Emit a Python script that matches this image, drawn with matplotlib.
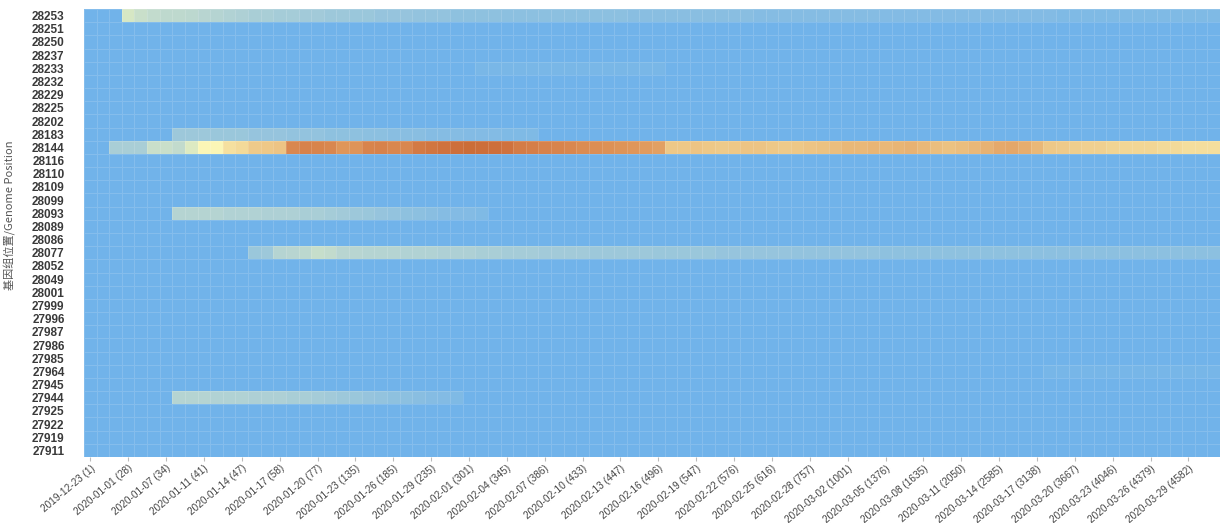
import numpy as np
import matplotlib
matplotlib.use("Agg")
import matplotlib.pyplot as plt
from matplotlib.colors import LinearSegmentedColormap

# Genome positions (top to bottom)
positions = [28253, 28251, 28250, 28237, 28233, 28232, 28229, 28225, 28202, 28183,
             28144, 28116, 28110, 28109, 28099, 28093, 28089, 28086, 28077, 28052,
             28049, 28001, 27999, 27996, 27987, 27986, 27985, 27964, 27945, 27944,
             27925, 27922, 27919, 27911]

n_dates = 90

# Every third collection date is labelled: date (cumulative genome count)
date_labels = ["2019-12-23 (1)", "2020-01-01 (28)", "2020-01-07 (34)", "2020-01-11 (41)",
               "2020-01-14 (47)", "2020-01-17 (58)", "2020-01-20 (77)", "2020-01-23 (135)",
               "2020-01-26 (185)", "2020-01-29 (235)", "2020-02-01 (301)", "2020-02-04 (345)",
               "2020-02-07 (386)", "2020-02-10 (433)", "2020-02-13 (447)", "2020-02-16 (496)",
               "2020-02-19 (547)", "2020-02-22 (576)", "2020-02-25 (616)", "2020-02-28 (757)",
               "2020-03-02 (1001)", "2020-03-05 (1376)", "2020-03-08 (1635)", "2020-03-11 (2050)",
               "2020-03-14 (2585)", "2020-03-17 (3138)", "2020-03-20 (3667)", "2020-03-23 (4046)",
               "2020-03-26 (4379)", "2020-03-29 (4582)"]

# Mutation frequency per date for the variable sites (start column, values)
freq_28144_start = 2
freq_28144 = [0.17, 0.17, 0.17, 0.26, 0.26, 0.24, 0.32, 0.40, 0.40, 0.47,
              0.49, 0.54, 0.55, 0.56, 0.78, 0.80, 0.79, 0.78, 0.72, 0.73,
              0.79, 0.80, 0.78, 0.78, 0.84, 0.86, 0.88, 0.90, 0.92, 0.91,
              0.90, 0.88, 0.83, 0.82, 0.80, 0.79, 0.78, 0.76, 0.75, 0.74,
              0.73, 0.72, 0.70, 0.68, 0.55, 0.55, 0.56, 0.55, 0.54, 0.55,
              0.56, 0.56, 0.55, 0.54, 0.55, 0.56, 0.57, 0.58, 0.60, 0.60,
              0.61, 0.60, 0.61, 0.62, 0.60, 0.58, 0.57, 0.58, 0.60, 0.62,
              0.65, 0.66, 0.64, 0.60, 0.55, 0.54, 0.53, 0.52, 0.52, 0.51,
              0.50, 0.50, 0.50, 0.49, 0.49, 0.48, 0.48, 0.48]

freq_28253_start = 3
freq_28253 = [0.30, 0.26, 0.24, 0.23, 0.23, 0.22, 0.21, 0.20, 0.19, 0.18,
              0.17, 0.17, 0.16, 0.16, 0.15, 0.15, 0.14, 0.14, 0.13, 0.13,
              0.12, 0.12, 0.12, 0.11, 0.11, 0.11, 0.10, 0.10, 0.10, 0.10,
              0.09, 0.09, 0.09, 0.09, 0.09, 0.09, 0.09, 0.09, 0.09, 0.09,
              0.08, 0.08, 0.08, 0.08, 0.08, 0.08, 0.08, 0.08, 0.08, 0.08,
              0.07, 0.07, 0.07, 0.07, 0.07, 0.07, 0.07, 0.07, 0.07, 0.07,
              0.06, 0.06, 0.06, 0.06, 0.06, 0.06, 0.06, 0.06, 0.06, 0.06,
              0.06, 0.06, 0.06, 0.06, 0.05, 0.05, 0.05, 0.05, 0.05, 0.05,
              0.05, 0.05, 0.05, 0.05, 0.05, 0.05, 0.05]

freq_28233_start = 31
freq_28233 = [0.03, 0.03, 0.03, 0.03, 0.03, 0.03, 0.03, 0.03, 0.03, 0.03,
              0.03, 0.03, 0.03, 0.03, 0.03]

freq_28183_start = 7
freq_28183 = [0.14, 0.14, 0.14, 0.13, 0.13, 0.13, 0.12, 0.12, 0.12, 0.11,
              0.11, 0.11, 0.10, 0.10, 0.10, 0.09, 0.09, 0.08, 0.08, 0.08,
              0.07, 0.07, 0.07, 0.06, 0.06, 0.06, 0.05, 0.05, 0.05]

freq_28093_start = 7
freq_28093 = [0.20, 0.20, 0.20, 0.20, 0.19, 0.19, 0.19, 0.18, 0.18, 0.18,
              0.17, 0.17, 0.16, 0.15, 0.14, 0.13, 0.12, 0.11, 0.10, 0.09,
              0.08, 0.07, 0.06, 0.06, 0.05]

freq_28077_start = 13
freq_28077 = [0.13, 0.14, 0.20, 0.21, 0.22, 0.25, 0.24, 0.21, 0.21, 0.20,
              0.20, 0.20, 0.19, 0.19, 0.19, 0.18, 0.18, 0.18, 0.17, 0.17,
              0.16, 0.16, 0.16, 0.15, 0.15, 0.15, 0.15, 0.14, 0.14, 0.14,
              0.14, 0.14, 0.13, 0.13, 0.13, 0.13, 0.13, 0.12, 0.12, 0.12,
              0.12, 0.12, 0.12, 0.11, 0.11, 0.11, 0.11, 0.11, 0.11, 0.11,
              0.10, 0.10, 0.10, 0.10, 0.10, 0.10, 0.10, 0.10, 0.10, 0.10,
              0.10, 0.10, 0.09, 0.09, 0.09, 0.09, 0.09, 0.09, 0.09, 0.09,
              0.09, 0.09, 0.09, 0.09, 0.09, 0.09, 0.09]

freq_27964_start = 76
freq_27964 = [0.02, 0.02, 0.02, 0.02, 0.02, 0.02, 0.02, 0.02, 0.02, 0.02,
              0.02, 0.02, 0.02, 0.02]

freq_27944_start = 7
freq_27944 = [0.20, 0.20, 0.20, 0.19, 0.19, 0.19, 0.18, 0.18, 0.18, 0.17,
              0.17, 0.16, 0.15, 0.14, 0.13, 0.12, 0.11, 0.10, 0.09, 0.08,
              0.07, 0.06, 0.05]

site_series = {
    28144: (freq_28144_start, freq_28144),
    28253: (freq_28253_start, freq_28253),
    28233: (freq_28233_start, freq_28233),
    28183: (freq_28183_start, freq_28183),
    28093: (freq_28093_start, freq_28093),
    28077: (freq_28077_start, freq_28077),
    27964: (freq_27964_start, freq_27964),
    27944: (freq_27944_start, freq_27944),
}

matrix = np.zeros((len(positions), n_dates))
for pos, (start, vals) in site_series.items():
    r = positions.index(pos)
    matrix[r, start:start + len(vals)] = vals

cmap = LinearSegmentedColormap.from_list("freq", [
    (0.00, "#71b3ea"),
    (0.10, "#8fc1df"),
    (0.20, "#b5d4d2"),
    (0.30, "#d7e7c4"),
    (0.40, "#fbf6b6"),
    (0.50, "#f2d796"),
    (0.60, "#e9b878"),
    (0.70, "#e19b5e"),
    (0.80, "#d7824b"),
    (0.90, "#cd6f3b"),
    (1.00, "#c5642f"),
])

fig = plt.figure(figsize=(12.2, 5.23), dpi=100)
ax = fig.add_axes([84 / 1220, 1 - 457 / 523, 1136 / 1220, 448 / 523])

ax.pcolormesh(np.arange(n_dates + 1), np.arange(len(positions) + 1), matrix,
              cmap=cmap, vmin=0, vmax=1,
              edgecolors=(1, 1, 1, 0.14), linewidth=0.7)
ax.set_xlim(0, n_dates)
ax.set_ylim(len(positions), 0)

for s in ax.spines.values():
    s.set_visible(False)

ax.set_yticks(np.arange(len(positions)) + 0.5)
ax.set_yticklabels([str(p) for p in positions], fontsize=8.5,
                   fontweight="bold", color="#3a3a3a", family="Liberation Sans")
ax.tick_params(axis="y", length=0, pad=14)

ax.set_xticks(np.arange(0, n_dates, 3) + 0.5)
ax.set_xticklabels(date_labels, rotation=40, ha="right", rotation_mode="anchor",
                   fontsize=7.2, color="#444444", family="Liberation Sans")
ax.tick_params(axis="x", length=3, width=0.8, color="#bbbbbb", pad=1.5)

ax.set_ylabel("基因组位置/Genome Position", fontsize=8, color="#555555",
              family=["Noto Sans CJK SC", "DejaVu Sans"])
ax.yaxis.set_label_coords(-0.060, 0.54)

fig.savefig("out.png", dpi=100)
